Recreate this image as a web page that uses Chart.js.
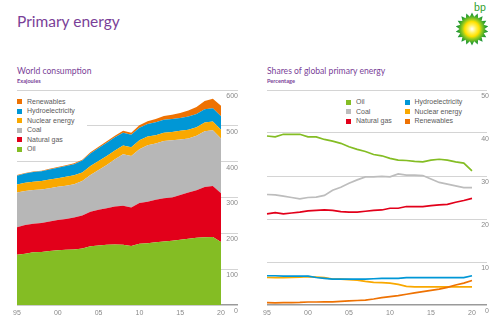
<!DOCTYPE html>
<html>
<head>
<meta charset="utf-8">
<script src="https://cdn.jsdelivr.net/npm/chart.js@4/dist/chart.umd.min.js"></script>
<style>
  body { margin: 0; width: 501px; height: 329px; background: #fff; position: relative; overflow: hidden; font-family: "Liberation Sans", Arial, sans-serif; }
  .title { position: absolute; left: 17px; top: 12px; font: 15.5px Lato, sans-serif; color: #7a3f98; }
  .sub { position: absolute; font: 8.6px Lato, sans-serif; color: #7a3f98; }
  .unit { position: absolute; font: bold 5.6px Lato, sans-serif; color: #7a3f98; }
  canvas { position: absolute; }
  .legend { position: absolute; background: #fff; font-size: 7px; color: #5a5a5a; }
  .legend div { position: absolute; white-space: nowrap; line-height: 8px; }
  .legend span { display: inline-block; width: 5px; height: 5px; margin-right: 5px; vertical-align: -0.5px; }
  #logo { position: absolute; left: 451px; top: 0px; }
</style>
</head>
<body>
<div class="title">Primary energy</div>
<div class="sub" style="left:17px;top:66px">World consumption</div>
<div class="unit" style="left:17px;top:77px">Exajoules</div>
<div class="sub" style="left:267px;top:66px">Shares of global primary energy</div>
<div class="unit" style="left:267px;top:77px">Percentage</div>

<svg id="logo" width="42" height="46" viewBox="0 0 42 46">
  <defs>
    <radialGradient id="sun" cx="0.5" cy="0.5" r="0.5">
      <stop offset="0" stop-color="#ffffff"/>
      <stop offset="0.25" stop-color="#fff25a"/>
      <stop offset="0.45" stop-color="#ffe000"/>
      <stop offset="0.6" stop-color="#9ccc1c"/>
      <stop offset="0.8" stop-color="#3ea82a"/>
      <stop offset="1" stop-color="#0a8a3a"/>
    </radialGradient>
  </defs>
  <text x="23" y="11" font-family="Lato, sans-serif" font-size="10.5" fill="#33a02c">bp</text>
  <polygon id="helios" fill="url(#sun)"/>
</svg>

<canvas id="left" width="250" height="249" style="left:0;top:80px"></canvas>
<canvas id="right" width="246" height="249" style="left:255px;top:80px"></canvas>
<div class="legend" id="leftLegend" style="left:17px;top:95px;width:70px;height:59px"></div>
<div class="legend" id="rightLegend" style="left:346px;top:97px;width:130px;height:30px"></div>

<script>
// years and x tick labels
const years = [1995,1996,1997,1998,1999,2000,2001,2002,2003,2004,2005,2006,2007,2008,2009,2010,2011,2012,2013,2014,2015,2016,2017,2018,2019,2020];
const xTickLabels = ['95','00','05','10','15','20'];
const leftTicks = [0,100,200,300,400,500,600];
const rightTicks = [0,10,20,30,40,50];

// World consumption, exajoules
const oilEJ = [140,143,147,148,151,153,154,155,158,164,166,168,169,168,165,171,172,175,177,179,182,185,188,189,190,176];
const gasEJ = [77,80,80,81,82,84,86,89,92,96,100,102,106,109,107,114,116,119,121,121,125,129,132,140,142,136];
const coalEJ = [97,95,94,93,93,93,93,93,96,103,111,121,132,144,144,150,158,157,160,160,155,151,152,156,156,153];
const nuclearEJ = [22,23,23,24,24,24,25,25,24,25,25,25,24,24,24,25,24,23,23,23,24,24,24,24,24,24];
const hydroEJ = [25,26,27,27,28,29,30,31,33,35,36,37,37,36,35,35,35,36,36,36,36,37,37,37,37,38];
const renewEJ = [1.5,1.6,1.7,1.8,1.9,2,2.2,2.4,2.6,3,3.4,3.8,4.3,5,5.5,6.5,7.5,9,10.5,12,14,16.5,19.5,23,26.5,29];

// Shares of global primary energy, percent
const oilShare = [39.3,39.1,39.7,39.7,39.7,39.1,39.1,38.5,38.1,37.6,36.8,36.2,35.7,35.0,34.7,34.1,33.7,33.6,33.4,33.3,33.7,33.9,33.7,33.3,33.0,31.2];
const coalShare = [25.7,25.6,25.3,25.0,24.7,25.0,25.1,25.5,26.7,27.4,28.3,29.1,29.8,29.8,29.9,29.8,30.5,30.2,30.2,30.1,29.3,28.5,28.1,27.7,27.3,27.3];
const gasShare = [21.2,21.5,21.2,21.4,21.6,21.9,22.0,22.1,22.0,21.7,21.6,21.6,21.8,22.0,22.1,22.5,22.5,22.9,22.9,22.9,23.1,23.3,23.4,23.9,24.3,24.8];
const hydroShare = [6.8,6.8,6.7,6.7,6.7,6.7,6.4,6.2,6.0,6.0,6.0,6.0,6.0,6.1,6.2,6.2,6.2,6.35,6.35,6.4,6.35,6.4,6.35,6.35,6.35,6.8];
const nuclearShare = [6.4,6.35,6.35,6.4,6.5,6.6,6.5,6.35,6.05,6.0,5.9,5.8,5.5,5.25,5.2,5.1,4.8,4.35,4.2,4.2,4.2,4.2,4.2,4.2,4.2,4.2];
const renewShare = [0.55,0.5,0.55,0.55,0.6,0.7,0.7,0.75,0.75,0.85,0.95,1.05,1.15,1.4,1.7,1.95,2.2,2.5,2.8,3.1,3.4,3.7,4.1,4.65,5.1,5.7];

const colors = {
  oil: '#84bd24', gas: '#e2001a', coal: '#b7b7b7',
  nuclear: '#f9a800', hydro: '#0097d6', renew: '#ee7203'
};

// bp helios star
(function() {
  const pts = [];
  const cx = 21, cy = 29, n = 18;
  for (let i = 0; i < n * 2; i++) {
    const r = i % 2 === 0 ? 16.5 : 12.5;
    const a = Math.PI * i / n - Math.PI / 2;
    pts.push((cx + r * Math.cos(a)).toFixed(2) + ',' + (cy + r * Math.sin(a)).toFixed(2));
  }
  document.getElementById('helios').setAttribute('points', pts.join(' '));
})();

Chart.defaults.font.family = '"Liberation Sans", Arial, sans-serif';
Chart.defaults.font.size = 7;
Chart.defaults.color = '#8a8a8a';

function xLabel(val, i) {
  const y = years[i];
  return y % 5 === 0 ? xTickLabels[(y - 1995) / 5] : '';
}

function gridColor(ctx) {
  return ctx.tick && ctx.tick.value === 0 ? '#9a9a9a' : '#d4d4d4';
}
function gridWidth(ctx) {
  return ctx.tick && ctx.tick.value === 0 ? 1.5 : 1;
}

function makeScales(ticks, tickLen, pad) {
  return {
    x: {
      grid: { display: false, drawTicks: false },
      border: { display: false },
      ticks: { autoSkip: false, maxRotation: 0, padding: 4, callback: xLabel },
      afterFit: s => { s.height = 15; }
    },
    y: {
      position: 'right',
      min: ticks[0], max: ticks[ticks.length - 1],
      stacked: true,
      border: { display: false },
      grid: { color: gridColor, lineWidth: gridWidth, drawTicks: true, tickLength: tickLen },
      afterBuildTicks: s => { s.ticks = ticks.map(v => ({ value: v })); },
      ticks: { padding: pad, crossAlign: 'far', labelOffset: 6 },
      afterFit: s => { s.width = 17; }
    }
  };
}

// World consumption: stacked areas
const areaSets = [
  ['Oil', oilEJ, colors.oil],
  ['Natural gas', gasEJ, colors.gas],
  ['Coal', coalEJ, colors.coal],
  ['Nuclear energy', nuclearEJ, colors.nuclear],
  ['Hydroelectricity', hydroEJ, colors.hydro],
  ['Renewables', renewEJ, colors.renew]
];
const leftScales = makeScales(leftTicks, 17, -12);
const leftChart = new Chart(document.getElementById('left'), {
  type: 'line',
  data: {
    labels: years,
    datasets: areaSets.map((d, i) => ({
      label: d[0], data: d[1], backgroundColor: d[2], borderColor: d[2],
      borderWidth: 0, pointRadius: 0, fill: i === 0 ? 'origin' : '-1', tension: 0
    }))
  },
  options: {
    responsive: false, animation: false,
    layout: { padding: { left: 17, right: 12, top: 10, bottom: 9 } },
    plugins: { legend: { display: false }, tooltip: { enabled: false } },
    scales: leftScales
  }
});

// Shares: lines
const lineSets = [
  ['Oil', oilShare, colors.oil, 2],
  ['Coal', coalShare, '#bdbdbd', 2],
  ['Natural gas', gasShare, colors.gas, 2],
  ['Hydroelectricity', hydroShare, colors.hydro, 1],
  ['Nuclear energy', nuclearShare, colors.nuclear, 2],
  ['Renewables', renewShare, colors.renew, 0]
];
const rightScales = makeScales(rightTicks, 15, -7);
rightScales.y.stacked = false;
const rightChart = new Chart(document.getElementById('right'), {
  type: 'line',
  data: {
    labels: years,
    datasets: lineSets.map(d => ({
      label: d[0], data: d[1], borderColor: d[2], backgroundColor: d[2],
      borderWidth: 1.7, pointRadius: 0, fill: false, tension: 0, order: d[3]
    }))
  },
  options: {
    responsive: false, animation: false,
    layout: { padding: { left: 12, right: 12, top: 10, bottom: 9 } },
    plugins: { legend: { display: false }, tooltip: { enabled: false } },
    scales: rightScales
  }
});

// html legends built from the chart datasets
function buildLegend(chart, el, placeFn, orderIdx) {
  const ds = chart.data.datasets;
  orderIdx.forEach((di, k) => {
    const item = document.createElement('div');
    const p = placeFn(k);
    item.style.left = p[0] + 'px';
    item.style.top = p[1] + 'px';
    item.innerHTML = `<span style="background:${ds[di].backgroundColor}"></span>${ds[di].label}`;
    el.appendChild(item);
  });
}
buildLegend(leftChart, document.getElementById('leftLegend'),
  k => [0, 2.5 + k * 9.5], [5, 4, 3, 2, 1, 0]);
buildLegend(rightChart, document.getElementById('rightLegend'),
  k => [(k % 2) * 58.5, 1 + Math.floor(k / 2) * 9.6], [0, 3, 1, 4, 2, 5]);
</script>
</body>
</html>
